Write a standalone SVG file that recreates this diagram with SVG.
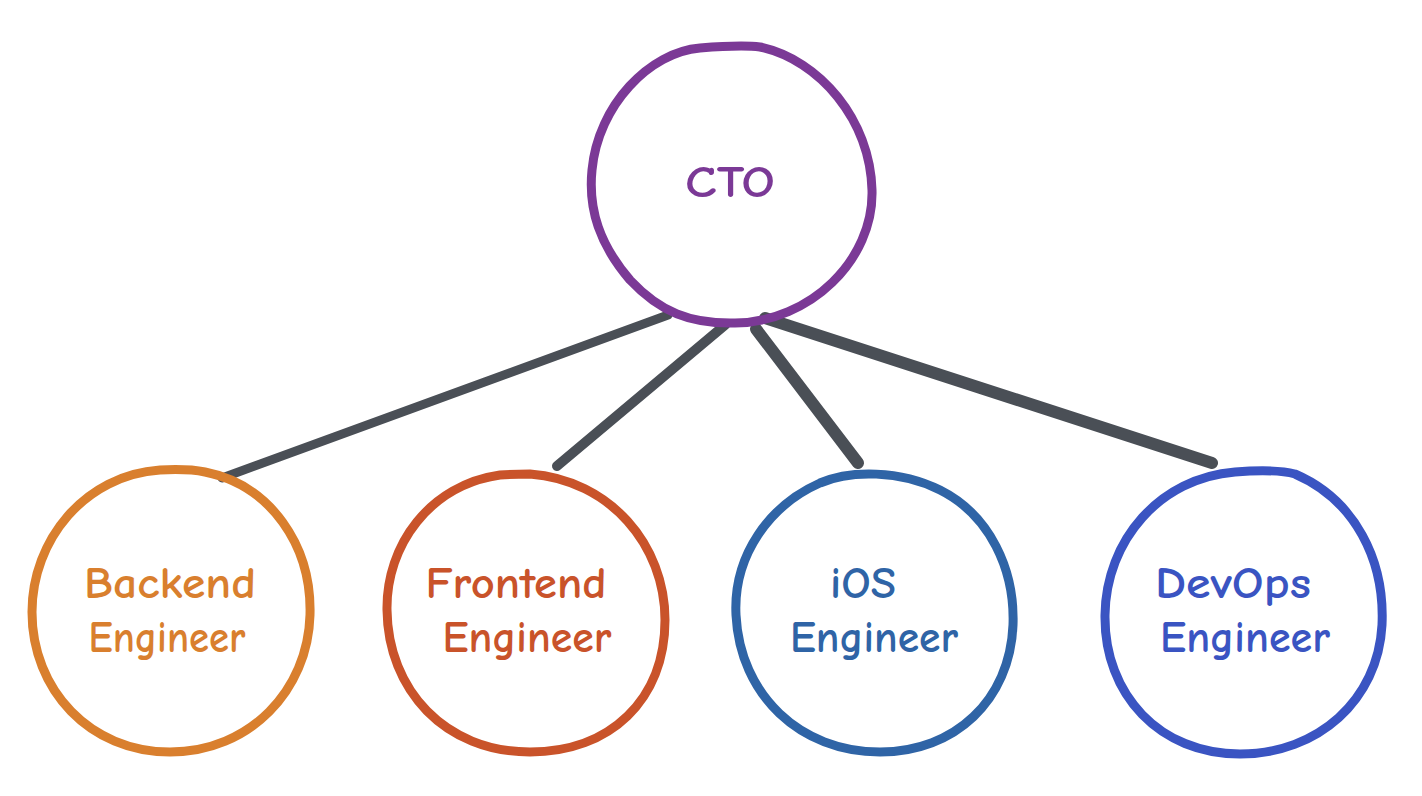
<svg xmlns="http://www.w3.org/2000/svg" width="1422" height="796" viewBox="0 0 1422 796">
<style>
.ring{fill:none;stroke-width:9;stroke-linecap:round;stroke-linejoin:round}
.lbl{font-family:"Comic Neue","Liberation Sans","DejaVu Sans",sans-serif;font-size:44px;font-weight:bold;text-anchor:middle}
.edge{stroke:#4a4f56;stroke-linecap:round;fill:none}
</style>
<rect width="1422" height="796" fill="#ffffff"/>
<g id="connectors">
<line class="edge" x1="668" y1="315" x2="222" y2="478" stroke-width="9"/>
<line class="edge" x1="725" y1="325" x2="557" y2="466" stroke-width="10"/>
<line class="edge" x1="756" y1="329" x2="858" y2="463" stroke-width="12"/>
<line class="edge" x1="765" y1="318" x2="1212" y2="463" stroke-width="12"/>
</g>
<g id="cto">
<path class="ring" stroke="#7b3996" d="M760,47 C820,60 870,120 872,190 C874,260 810,322 735,323 C690,324 660,312 630,280 C600,245 588,210 592,170 C598,105 650,52 700,48 C725,46 745,45 760,47 Z"/>
<text class="lbl" x="730" y="197" fill="#7b3996" font-size="40" textLength="90" lengthAdjust="spacingAndGlyphs">CTO</text>
</g>
<g id="backend">
<path class="ring" stroke="#d97f2e" d="M205,472 C270,485 312,545 310,615 C308,690 250,752 170,752 C90,752 32,690 32,612 C32,540 85,475 160,470 C180,469 195,470 205,472 Z"/>
<text class="lbl" x="170" y="598" fill="#d97f2e" textLength="172" lengthAdjust="spacingAndGlyphs">Backend</text>
<text class="lbl" x="167" y="652" fill="#d97f2e" textLength="157" lengthAdjust="spacingAndGlyphs">Engineer</text>
</g>
<g id="frontend">
<path class="ring" stroke="#c9532a" d="M530,474 C610,480 665,545 665,620 C665,700 610,752 530,752 C445,752 388,690 387,610 C386,545 430,485 500,475 C512,474 522,474 530,474 Z"/>
<text class="lbl" x="516" y="598" fill="#c9532a" textLength="181" lengthAdjust="spacingAndGlyphs">Frontend</text>
<text class="lbl" x="527" y="652" fill="#c9532a" textLength="169" lengthAdjust="spacingAndGlyphs">Engineer</text>
</g>
<g id="ios">
<path class="ring" stroke="#2f64a6" d="M820,483 C850,470 900,470 940,490 C990,515 1015,570 1013,625 C1010,700 955,752 880,752 C800,752 740,695 736,615 C733,555 770,505 820,483 Z"/>
<text class="lbl" x="863" y="598" fill="#2f64a6" textLength="66" lengthAdjust="spacingAndGlyphs">iOS</text>
<text class="lbl" x="874" y="652" fill="#2f64a6" textLength="168" lengthAdjust="spacingAndGlyphs">Engineer</text>
</g>
<g id="devops">
<path class="ring" stroke="#3a54c2" d="M1295,474 C1355,500 1385,560 1382,625 C1378,700 1318,754 1240,754 C1160,754 1104,695 1105,615 C1106,540 1160,478 1235,472 C1260,470 1280,470 1295,474 Z"/>
<text class="lbl" x="1233" y="598" fill="#3a54c2" textLength="156" lengthAdjust="spacingAndGlyphs">DevOps</text>
<text class="lbl" x="1245" y="652" fill="#3a54c2" textLength="170" lengthAdjust="spacingAndGlyphs">Engineer</text>
</g>
</svg>
